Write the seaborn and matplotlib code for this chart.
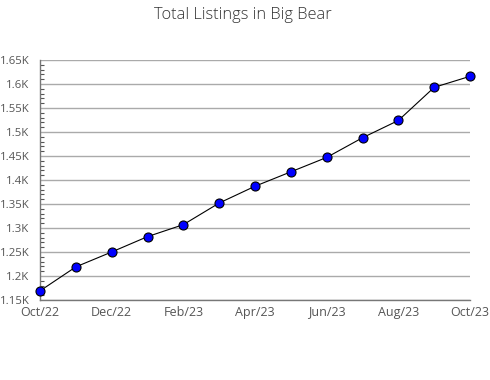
import matplotlib
matplotlib.use("Agg")
import matplotlib.pyplot as plt
import seaborn as sns
import pandas as pd
from matplotlib.ticker import MultipleLocator, FuncFormatter

months = ["Oct/22", "Nov/22", "Dec/22", "Jan/23", "Feb/23", "Mar/23", "Apr/23",
          "May/23", "Jun/23", "Jul/23", "Aug/23", "Sep/23", "Oct/23"]
listings = [1169, 1219, 1250, 1282, 1307, 1352, 1387, 1417, 1447, 1488, 1524, 1593, 1616]
title = "Total Listings in Big Bear"

df = pd.DataFrame({"idx": list(range(len(months))), "month": months, "value": listings})

sns.set_theme(style="white")
plt.rcParams['font.family'] = ['Open Sans', 'DejaVu Sans']

fig = plt.figure(figsize=(4.9, 3.8), dpi=100)
ax = fig.add_axes([40/490, 1 - 300/380, 430/490, 240/380])

sns.lineplot(data=df, x="idx", y="value", ax=ax, color="black", linewidth=0.8,
             marker="o", markersize=6.5, markerfacecolor="#0000ff",
             markeredgecolor="black", markeredgewidth=0.8, zorder=3, clip_on=False)

ax.set_xlim(0, len(months) - 1)
ax.set_ylim(1150, 1650)
ax.yaxis.set_major_locator(MultipleLocator(50))
ax.yaxis.set_minor_locator(MultipleLocator(10))

def kfmt(v, pos):
    s = f"{v/1000:.2f}".rstrip("0").rstrip(".")
    return s + "K"
ax.yaxis.set_major_formatter(FuncFormatter(kfmt))

ax.set_xticks(df["idx"])
ax.set_xticklabels([m if i % 2 == 0 else "" for i, m in enumerate(months)])

ax.grid(axis="y", color="#aaaaaa", linewidth=1)
ax.set_axisbelow(True)
for s in ["top", "right"]:
    ax.spines[s].set_visible(False)
for s in ["left", "bottom"]:
    ax.spines[s].set_color("#777777")
    ax.spines[s].set_linewidth(1)

ax.tick_params(axis="x", direction="in", length=5, width=1, color="#555555",
               labelsize=9, labelcolor="#555555", pad=4)
ax.tick_params(axis="y", which="major", direction="in", length=5, width=1,
               color="#555555", labelsize=8.2, labelcolor="#555555", pad=7.5)
ax.tick_params(axis="y", which="minor", direction="in", length=3, width=0.8,
               color="#555555", left=True)
ax.set_xlabel("")
ax.set_ylabel("")

fig.text(243/490, 1 - 15/380, title, ha="center", va="center", fontsize=11.8,
         color="#333333", fontweight="light")

fig.savefig("out.png", dpi=100)
